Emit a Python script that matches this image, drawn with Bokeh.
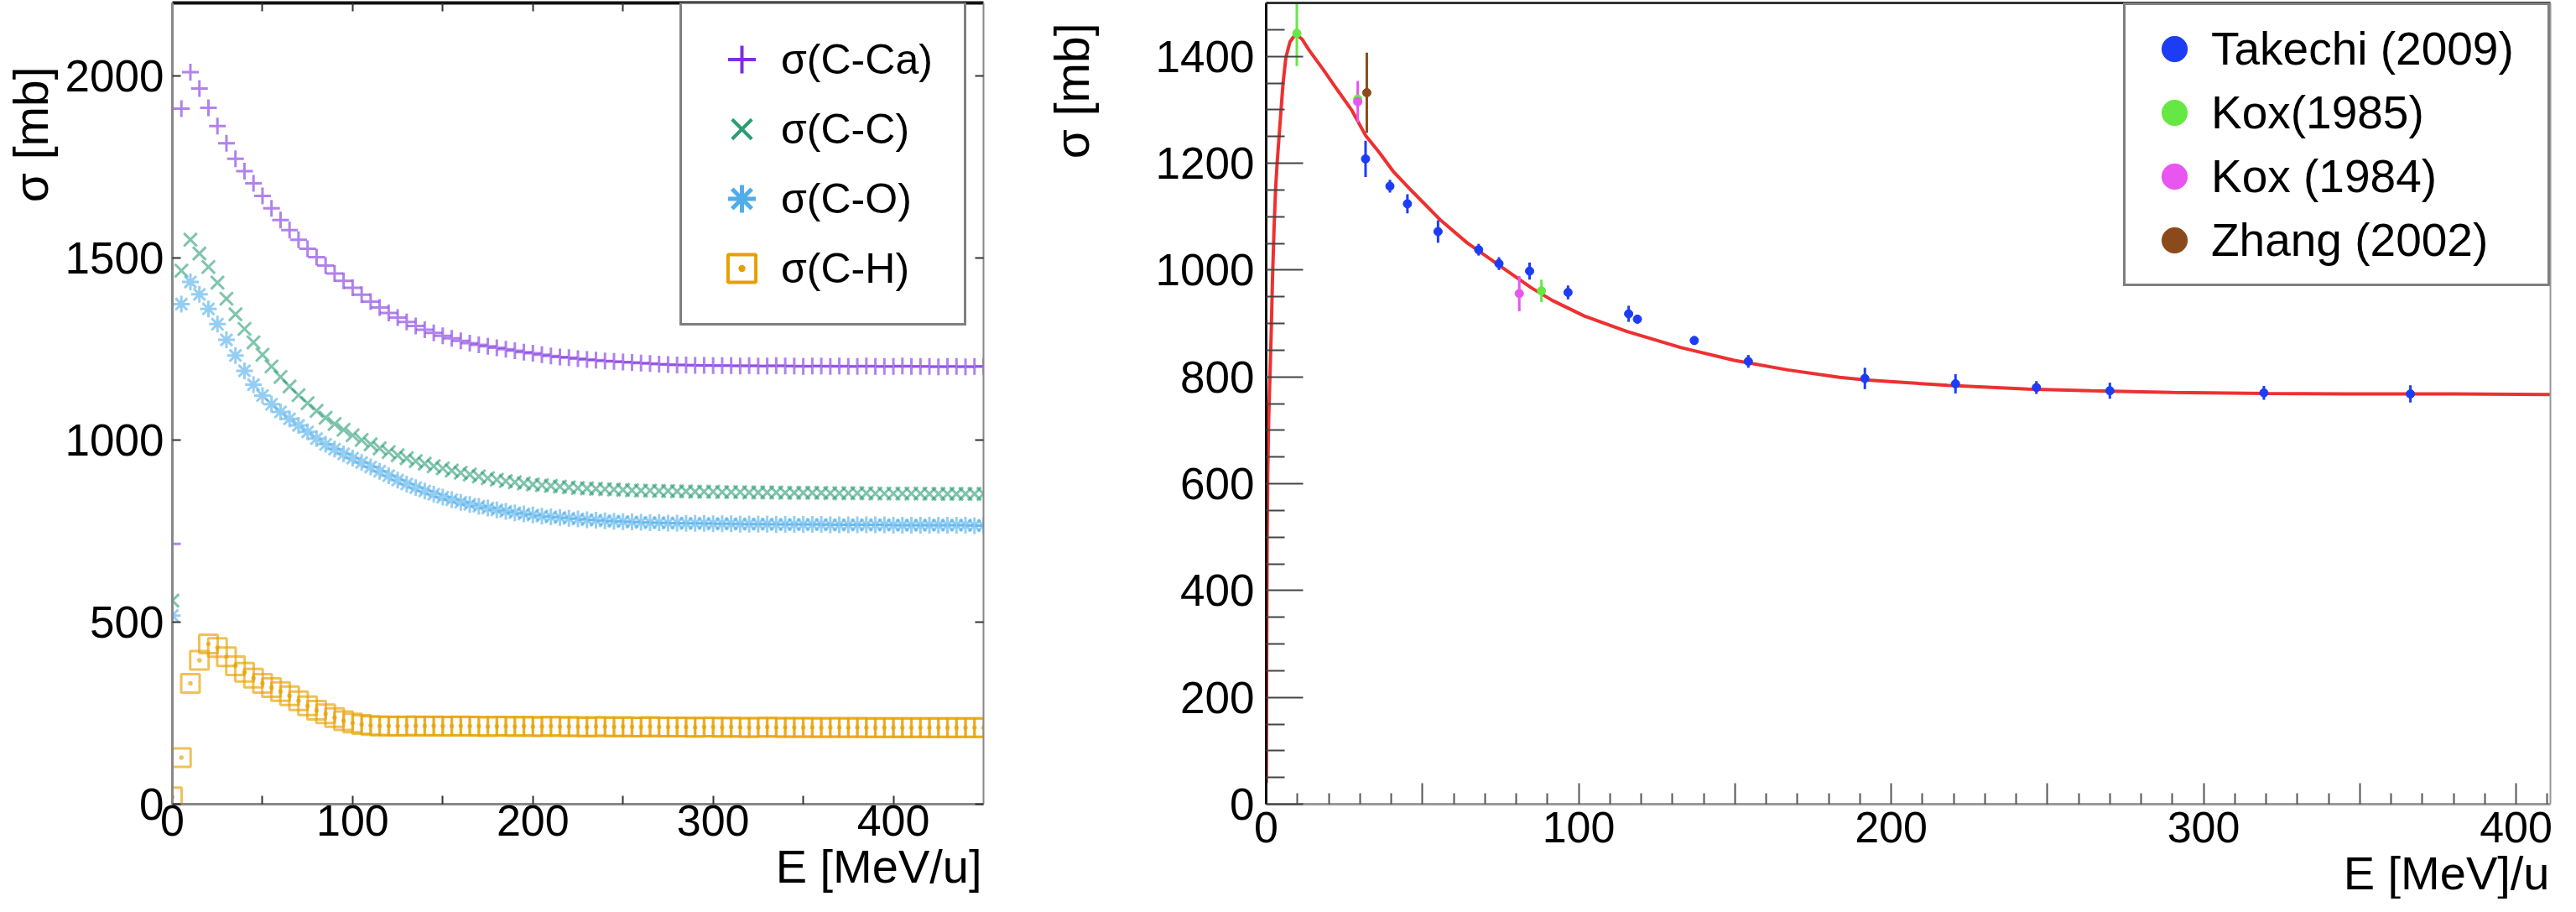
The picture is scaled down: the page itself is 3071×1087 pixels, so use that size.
from bokeh.plotting import figure
from bokeh.models import Range1d, FixedTicker, LinearAxis, Legend, LegendItem, Title
from bokeh.layouts import row
from bokeh.embed import file_html
from bokeh.resources import INLINE

FONT = "Liberation Sans"

# ---------------- left panel: model cross sections ----------------
E_MODEL = list(range(0, 451, 5))  # MeV/u, one point every 5 MeV/u

SIG_C_CA = [715, 1910, 2010, 1965, 1912, 1862, 1815, 1772, 1738, 1705,
            1670, 1636, 1604, 1576, 1550, 1525, 1502, 1479, 1457, 1437,
            1418, 1399, 1380, 1364, 1349, 1336, 1324, 1313, 1303, 1294,
            1286, 1279, 1272, 1266, 1261, 1257, 1253, 1249, 1245, 1241,
            1238, 1234, 1231, 1228, 1226, 1223, 1221, 1219, 1217, 1216,
            1214, 1213, 1211, 1210, 1208, 1207, 1206, 1206, 1205, 1205,
            1204, 1204, 1204, 1203, 1204, 1203, 1203, 1204, 1203, 1203,
            1202, 1203, 1203, 1202, 1203, 1202, 1202, 1203, 1202, 1202,
            1202, 1203, 1202, 1202, 1202, 1201, 1202, 1202, 1201, 1202,
            1202]

SIG_C_C = [559, 1465, 1550, 1512, 1475, 1432, 1388, 1345, 1305, 1268,
           1234, 1202, 1173, 1147, 1123, 1101, 1080, 1061, 1044, 1028,
           1013, 1000, 988, 977, 967, 958, 950, 942, 935, 928,
           922, 916, 910, 905, 900, 895, 891, 887, 884, 881,
           878, 876, 874, 872, 870, 868, 867, 866, 865, 864,
           863, 862, 861, 861, 860, 860, 859, 859, 858, 858,
           858, 857, 857, 857, 856, 856, 856, 856, 855, 855,
           855, 855, 855, 854, 854, 854, 854, 854, 853, 853,
           853, 853, 853, 853, 852, 852, 852, 852, 852, 852,
           852]

SIG_C_O = [518, 1373, 1434, 1400, 1360, 1318, 1275, 1232, 1190, 1152,
           1122, 1098, 1077, 1058, 1040, 1022, 1004, 988, 975, 962,
           950, 938, 926, 914, 902, 890, 879, 869, 860, 851,
           843, 836, 829, 823, 818, 813, 808, 804, 800, 797,
           794, 791, 789, 787, 785, 783, 781, 780, 778, 777,
           776, 775, 774, 773, 773, 772, 772, 771, 771, 771,
           770, 770, 770, 769, 769, 769, 769, 768, 768, 768,
           768, 768, 768, 767, 767, 767, 767, 767, 767, 767,
           766, 766, 766, 766, 766, 766, 766, 766, 766, 765,
           765]

SIG_C_H = [20, 128, 332, 395, 440, 430, 405, 380, 362, 346,
           332, 320, 309, 298, 284, 270, 258, 248, 238, 229,
           223, 219, 216, 215, 215, 214, 215, 215, 214, 215,
           214, 214, 215, 214, 214, 213, 214, 214, 213, 214,
           213, 213, 214, 213, 213, 213, 212, 213, 213, 212,
           213, 212, 212, 213, 212, 212, 212, 212, 211, 212,
           212, 211, 212, 211, 211, 211, 212, 211, 211, 211,
           211, 211, 210, 211, 211, 210, 211, 210, 210, 210,
           210, 210, 210, 210, 210, 210, 210, 210, 210, 210,
           210]

LEFT_NAMES = ["σ(C-Ca)", "σ(C-C)", "σ(C-O)", "σ(C-H)"]
LEFT_X_TICKS = [0, 50, 100, 150, 200, 250, 300, 350, 400]
LEFT_X_LABELS = {50: "", 150: "", 250: "", 350: ""}
LEFT_Y_TICKS = [0, 500, 1000, 1500, 2000]

# ---------------- right panel: 12C+12C measurements ----------------
TAK_E = [31.8, 39.6, 45.2, 55.0, 68.0, 74.5, 84.3, 96.6, 116.0, 118.8, 137.0, 154.3,
         191.6, 220.6, 246.5, 270.0, 319.3, 366.2]
TAK_S = [1208, 1157, 1124, 1072, 1038, 1012, 998, 958, 918, 908, 868, 829,
         797, 787, 780, 774, 770, 768]
TAK_ERR = [34, 12, 18, 21, 11, 12, 16, 13, 15, 8, 8, 12, 20, 18, 12, 15, 13, 16]

KOX85_E = [9.8, 29.3, 88.1]
KOX85_S = [1443, 1320, 961]
KOX85_ERR = [61, 16, 21]

KOX84_E = [29.3, 81.0]
KOX84_S = [1315, 956]
KOX84_ERR = [39, 33]

ZHANG_E = [32.2]
ZHANG_S = [1332]
ZHANG_ERR = [75]

FIT_E = [0.05, 0.15, 0.3, 0.5, 0.8, 1.2, 1.6, 2.0, 2.5, 3.0, 3.5, 4.5, 5.4, 6.3, 7.6,
         8.7, 9.8, 11.5, 13.8, 18.3, 22.8, 27.3, 31.8, 36.2, 40.6, 47.1, 55.7, 64.3,
         74.5, 84.8, 91.6, 101.8, 115.5, 132.6, 149.8, 166.9, 183.5, 192.4, 218.0,
         243.8, 264.0, 290.0, 320.0, 350.0, 380.0, 411.0]
FIT_S = [40, 250, 480, 620, 720, 800, 880, 980, 1075, 1150, 1200, 1280, 1350, 1398, 1427,
         1436, 1440, 1432, 1411, 1375, 1337, 1300, 1252, 1220, 1185, 1145, 1094, 1051,
         1009, 967, 943, 914, 885, 855, 831, 813, 799, 794, 784,
         777, 774, 771, 769, 768, 768, 767]

RIGHT_X_TICKS = [0, 50, 100, 150, 200, 250, 300, 350, 400]
RIGHT_X_MINOR = [10, 20, 30, 40, 60, 70, 80, 90, 110, 120, 130, 140, 160, 170, 180, 190,
                 210, 220, 230, 240, 260, 270, 280, 290, 310, 320, 330, 340, 360, 370,
                 380, 390, 410]
RIGHT_X_LABELS = {50: "", 150: "", 250: "", 350: ""}
RIGHT_Y_TICKS = [0, 200, 400, 600, 800, 1000, 1200, 1400]
RIGHT_Y_MINOR = [50, 100, 150, 250, 300, 350, 450, 500, 550, 650, 700, 750, 850, 900, 950,
                 1050, 1100, 1150, 1250, 1300, 1350, 1450]

C_CA, C_CC, C_CO, C_CH = "#7B2FE0", "#2A9D74", "#4FAEEA", "#E69F00"
C_TAK, C_K85, C_K84, C_ZH, C_FIT = "#1D3DF5", "#66E844", "#E855F0", "#8B4A1C", "#EE3030"


def style_ticks(ax, size, tick_in, minor_in=0, color="#333333", width=2):
    ax.major_label_text_font = FONT
    ax.major_label_text_font_size = size
    ax.major_label_text_color = "black"
    ax.major_tick_in = tick_in
    ax.major_tick_out = 0
    ax.minor_tick_in = minor_in
    ax.minor_tick_out = 0
    ax.major_tick_line_color = color
    ax.major_tick_line_width = width
    ax.minor_tick_line_color = color
    ax.minor_tick_line_width = width


def blank_axis(ticks, tick_in, line_color, line_width):
    ax = LinearAxis(ticker=FixedTicker(ticks=ticks),
                    major_label_overrides={t: "" for t in ticks})
    ax.major_label_text_font_size = "1px"
    ax.major_label_standoff = 0
    ax.major_tick_in = tick_in
    ax.major_tick_out = 0
    ax.minor_tick_in = 0
    ax.minor_tick_out = 0
    ax.major_tick_line_color = "#333333" if tick_in else None
    ax.major_tick_line_width = 2
    ax.axis_line_color = line_color
    ax.axis_line_width = line_width
    return ax


def side_title(text, size, **kw):
    return Title(text=text, text_font=FONT, text_font_size=size, text_font_style="normal",
                 text_color="black", **kw)


# ================= LEFT FIGURE =================
left = figure(width=1182, height=1071, x_range=Range1d(0, 450), y_range=Range1d(0, 2200),
              output_backend="svg", toolbar_location=None,
              min_border_left=202, min_border_right=10, min_border_top=0, min_border_bottom=0)
left.grid.visible = False
left.outline_line_color = None
left.background_fill_color = "white"
left.border_fill_color = "white"
left.extra_y_ranges = {"legend_only": Range1d(-5000, -4000)}

xa = left.xaxis[0]
xa.ticker = FixedTicker(ticks=LEFT_X_TICKS)
xa.major_label_overrides = LEFT_X_LABELS
style_ticks(xa, "52px", 10)
xa.major_label_standoff = 1
xa.axis_line_color = "#888888"
xa.axis_line_width = 3

ya = left.yaxis[0]
ya.ticker = FixedTicker(ticks=LEFT_Y_TICKS)
style_ticks(ya, "53px", 10)
ya.major_label_standoff = 10
ya.axis_line_color = "#888888"
ya.axis_line_width = 3

left.add_layout(blank_axis(LEFT_X_TICKS, 10, "#111111", 4), "above")
left.add_layout(blank_axis(LEFT_Y_TICKS, 10, "#888888", 2), "right")

left.scatter(E_MODEL, SIG_C_CA, marker="cross", size=20, line_color=C_CA, line_width=3, line_alpha=0.6)
left.scatter(E_MODEL, SIG_C_C, marker="x", size=22, line_color=C_CC, line_width=3, line_alpha=0.6)
left.scatter(E_MODEL, SIG_C_O, marker="asterisk", size=20, line_color=C_CO, line_width=3, line_alpha=0.6)
left.scatter(E_MODEL, SIG_C_H, marker="square_dot", size=22, line_color=C_CH, line_width=3,
             line_alpha=0.65, fill_color=None)

# full-colour copies of the series on an off-screen range, used only as legend swatches
lg1 = left.scatter(E_MODEL, SIG_C_CA, y_range_name="legend_only", marker="cross", size=20,
                   line_color=C_CA, line_width=4)
lg2 = left.scatter(E_MODEL, SIG_C_C, y_range_name="legend_only", marker="x", size=20,
                   line_color=C_CC, line_width=4)
lg3 = left.scatter(E_MODEL, SIG_C_O, y_range_name="legend_only", marker="asterisk", size=20,
                   line_color=C_CO, line_width=5)
lg4 = left.scatter(E_MODEL, SIG_C_H, y_range_name="legend_only", marker="square_dot", size=20,
                   line_color=C_CH, line_width=4, fill_color=None)

leg_l = Legend(items=[LegendItem(label=n, renderers=[r]) for n, r in zip(LEFT_NAMES, [lg1, lg2, lg3, lg4])],
               location=(605, 570), orientation="vertical",
               glyph_width=94, glyph_height=83, spacing=0, padding=24, margin=0,
               label_standoff=0, label_width=194,
               label_text_font=FONT, label_text_font_size="50px", label_text_color="black",
               border_line_color="black", border_line_width=3,
               background_fill_color="white", background_fill_alpha=1.0)
left.add_layout(leg_l)

left.add_layout(side_title("σ [mb]", "57px", align="right", offset=76, standoff=8,
                           vertical_align="top"), "left")
left.add_layout(side_title("E [MeV/u]", "56px", align="right", offset=2, standoff=0,
                           vertical_align="bottom"), "below")

# ================= RIGHT FIGURE =================
right = figure(width=1873, height=1071, x_range=Range1d(0, 411), y_range=Range1d(0, 1500),
               output_backend="svg", toolbar_location=None,
               min_border_left=324, min_border_right=15, min_border_top=3, min_border_bottom=0)
right.grid.visible = False
right.outline_line_color = None
right.background_fill_color = "white"
right.border_fill_color = "white"

rx = right.xaxis[0]
rx.ticker = FixedTicker(ticks=RIGHT_X_TICKS, minor_ticks=RIGHT_X_MINOR)
rx.major_label_overrides = RIGHT_X_LABELS
style_ticks(rx, "52px", 25, 13, color="#555555")
rx.major_label_standoff = 9
rx.axis_line_color = "#999999"
rx.axis_line_width = 3

ry = right.yaxis[0]
ry.ticker = FixedTicker(ticks=RIGHT_Y_TICKS, minor_ticks=RIGHT_Y_MINOR)
style_ticks(ry, "53px", 44, 22, color="#444444")
ry.major_label_standoff = 14
ry.axis_line_color = "#111111"
ry.axis_line_width = 3

right.add_layout(blank_axis(RIGHT_X_TICKS, 0, "#333333", 3), "above")
right.add_layout(blank_axis(RIGHT_Y_TICKS, 0, "#999999", 2), "right")

right.line(FIT_E, FIT_S, line_color=C_FIT, line_width=4)


def errbar(fig, xs, ys, errs, color):
    lo = [y - e for y, e in zip(ys, errs)]
    hi = [y + e for y, e in zip(ys, errs)]
    fig.segment(x0=xs, y0=lo, x1=xs, y1=hi, line_color=color, line_width=3)


errbar(right, KOX85_E, KOX85_S, KOX85_ERR, C_K85)
errbar(right, KOX84_E, KOX84_S, KOX84_ERR, C_K84)
errbar(right, ZHANG_E, ZHANG_S, ZHANG_ERR, C_ZH)
errbar(right, TAK_E, TAK_S, TAK_ERR, C_TAK)

r_k85 = right.scatter(KOX85_E, KOX85_S, marker="circle", size=10, color=C_K85)
r_k84 = right.scatter(KOX84_E, KOX84_S, marker="circle", size=10, color=C_K84)
r_zh = right.scatter(ZHANG_E, ZHANG_S, marker="circle", size=10, color=C_ZH)
r_tak = right.scatter(TAK_E, TAK_S, marker="circle", size=10, color=C_TAK)

leg_r = Legend(items=[LegendItem(label="Takechi (2009)", renderers=[r_tak]),
                      LegendItem(label="Kox(1985)", renderers=[r_k85]),
                      LegendItem(label="Kox (1984)", renderers=[r_k84]),
                      LegendItem(label="Zhang (2002)", renderers=[r_zh])],
               location="top_right", orientation="vertical",
               glyph_width=88, glyph_height=76, spacing=0, padding=14, margin=0,
               label_standoff=0, label_width=387,
               label_text_font=FONT, label_text_font_size="55px", label_text_color="black",
               border_line_color="black", border_line_width=3,
               background_fill_color="white", background_fill_alpha=1.0)
right.add_layout(leg_r)

right.add_layout(side_title("σ [mb]", "57px", align="right", offset=24, standoff=126,
                            vertical_align="top"), "left")
right.add_layout(side_title("E [MeV]/u", "56px", align="right", offset=1, standoff=0,
                            vertical_align="bottom"), "below")

layout = row(left, right)
open("out.html", "w").write(file_html(layout, INLINE))
